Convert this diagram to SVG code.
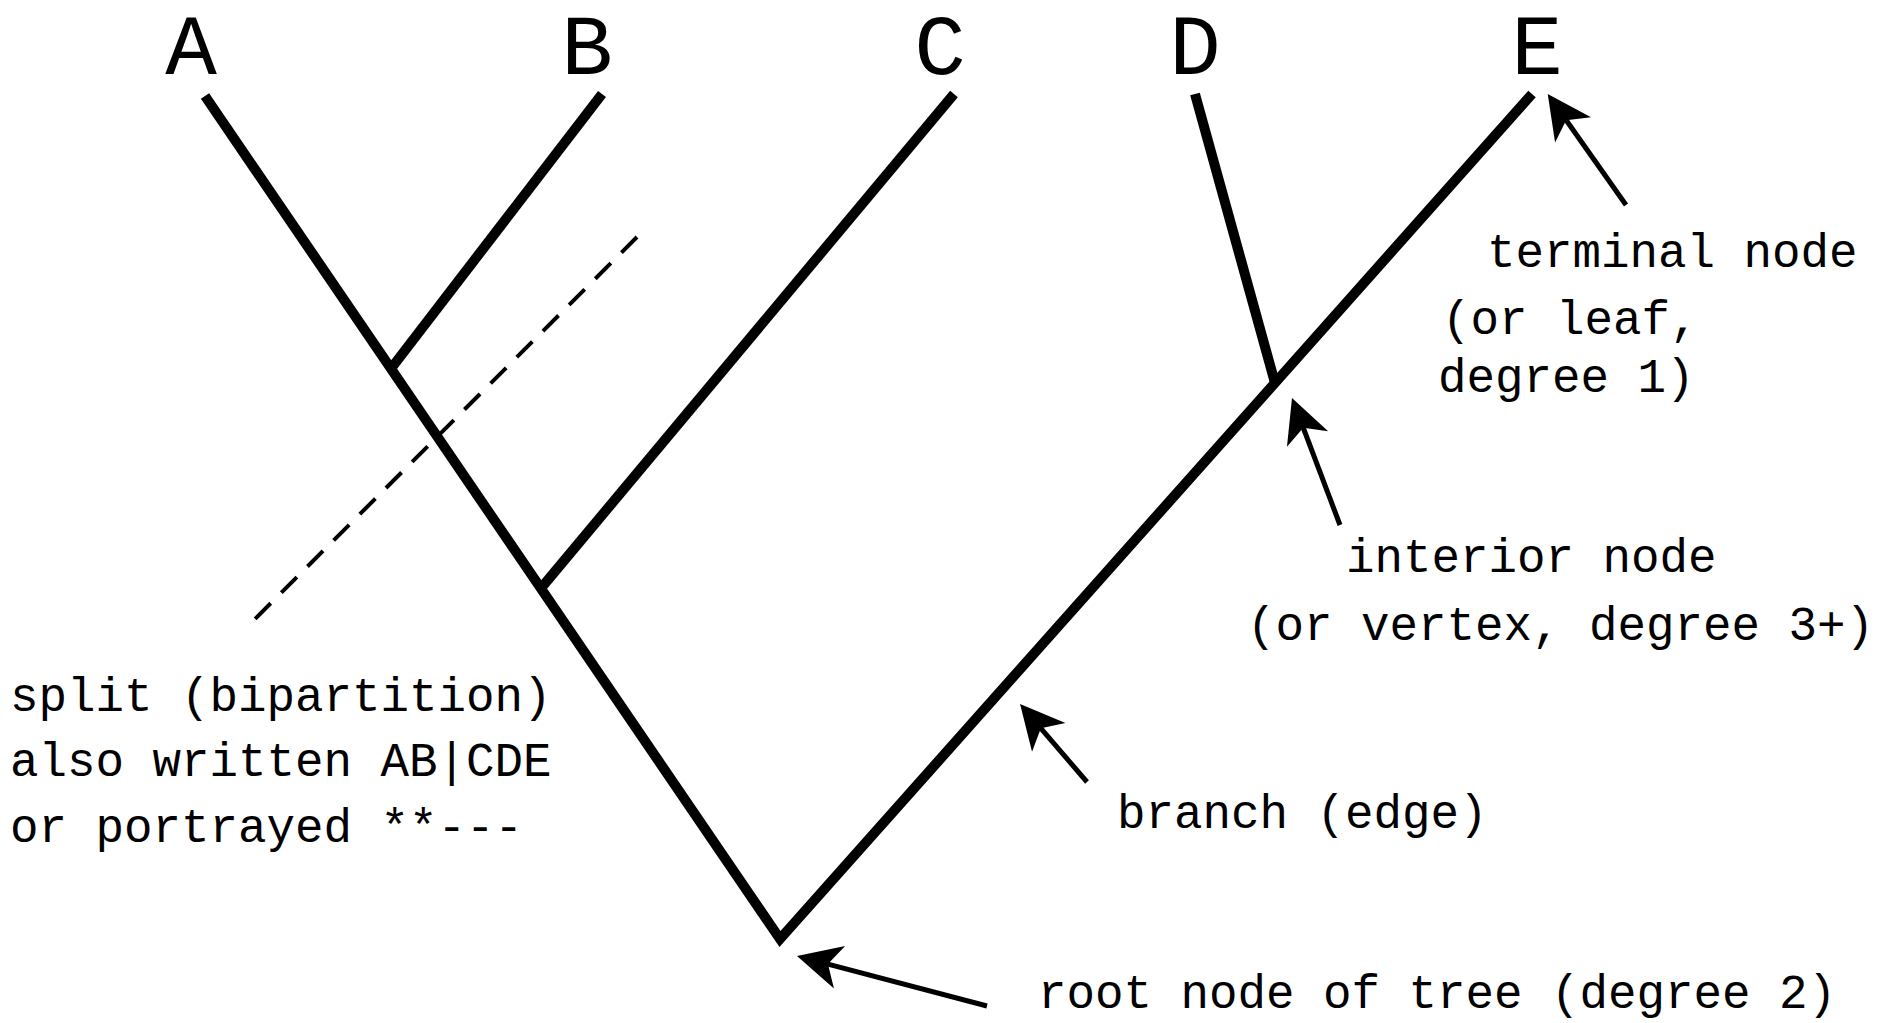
<svg xmlns="http://www.w3.org/2000/svg" width="1887" height="1023" viewBox="0 0 1887 1023">
  <style>
    .tip { font-family: "Liberation Mono", "DejaVu Sans Mono", monospace; font-size: 86px; fill: #000; text-anchor: middle; }
    .lbl { font-family: "Liberation Mono", "DejaVu Sans Mono", monospace; font-size: 47.5px; fill: #000; }
    .branch { stroke: #000; stroke-width: 10; fill: none; stroke-linecap: butt; stroke-linejoin: miter; }
    .split { stroke: #000; stroke-width: 4; fill: none; stroke-dasharray: 22 15; }
    .pointer { stroke: #000; stroke-width: 5; fill: none; marker-end: url(#head); }
  </style>
  <defs>
    <marker id="head" markerUnits="userSpaceOnUse" viewBox="-46 -24 48 48" markerWidth="48" markerHeight="48" refX="-30" refY="0" orient="auto">
      <path d="M0,0 L-44,-22 L-32,0 L-44,22 Z" fill="#000"/>
    </marker>
  </defs>
  <rect width="1887" height="1023" fill="#fff"/>

  <!-- tree branches -->
  <g id="branches">
    <polyline class="branch" points="205,96 780,939 1532,94"/>
    <line class="branch" x1="602" y1="94" x2="393" y2="366"/>
    <line class="branch" x1="954" y1="94" x2="542" y2="587"/>
    <line class="branch" x1="1195" y1="94" x2="1275" y2="383"/>
  </g>

  <!-- leaf labels -->
  <g id="leaf-A"><text class="tip" x="191" y="74">A</text></g>
  <g id="leaf-B"><text class="tip" x="587" y="74">B</text></g>
  <g id="leaf-C"><text class="tip" x="940" y="74">C</text></g>
  <g id="leaf-D"><text class="tip" x="1195" y="74">D</text></g>
  <g id="leaf-E"><text class="tip" x="1537" y="74">E</text></g>

  <!-- the split cutting AB off from CDE -->
  <g id="split">
    <line class="split" x1="637" y1="237" x2="252" y2="622"/>
    <text class="lbl" x="10" y="711">split (bipartition)</text>
    <text class="lbl" x="10" y="776">also written AB|CDE</text>
    <text class="lbl" x="10" y="842">or portrayed **---</text>
  </g>

  <!-- annotations -->
  <g id="terminal-note">
    <text class="lbl" x="1487" y="267">terminal node</text>
    <text class="lbl" x="1442" y="334">(or leaf,</text>
    <text class="lbl" x="1438" y="392">degree 1)</text>
  </g>
  <g id="interior-note">
    <text class="lbl" x="1346" y="572">interior node</text>
    <text class="lbl" x="1247" y="640">(or vertex, degree 3+)</text>
  </g>
  <g id="branch-note">
    <text class="lbl" x="1117" y="828">branch (edge)</text>
  </g>
  <g id="root-note">
    <text class="lbl" x="1038" y="1008">root node of tree (degree 2)</text>
  </g>

  <!-- pointer arrows -->
  <g id="pointers">
    <line class="pointer" x1="1626" y1="205" x2="1565" y2="118.5"/>
    <line class="pointer" x1="1340" y1="525" x2="1302.6" y2="426"/>
    <line class="pointer" x1="1087" y1="782" x2="1039.6" y2="726.8"/>
    <line class="pointer" x1="987" y1="1006" x2="826" y2="963.6"/>
  </g>
</svg>
